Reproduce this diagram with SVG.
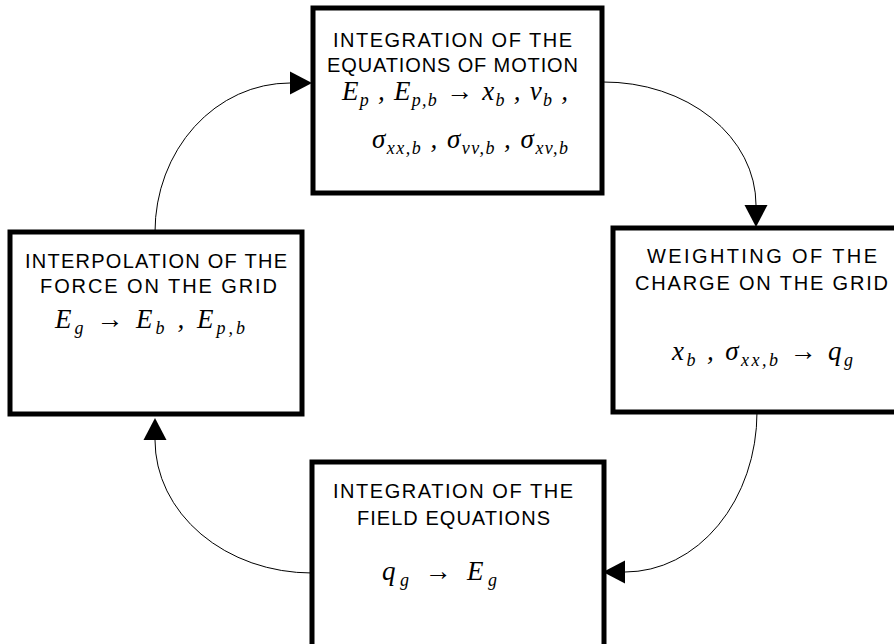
<svg xmlns="http://www.w3.org/2000/svg" width="894" height="644" viewBox="0 0 894 644">
<style>
.box{fill:#fff;stroke:#000;stroke-width:5}
.t{font-family:"Liberation Sans","DejaVu Sans",sans-serif;font-size:20px;fill:#000}
.m{font-family:"Liberation Serif","DejaVu Serif",serif;font-style:italic;font-size:27px;fill:#000}
.s{font-size:18px}
.r{font-style:normal}
.c{fill:none;stroke:#000;stroke-width:1}
</style>
<defs>
<marker id="ah" markerUnits="userSpaceOnUse" markerWidth="24" markerHeight="24" refX="0" refY="11.5" orient="auto" viewBox="0 0 24 23">
<path d="M0,0 L22,11.5 L0,23 z" fill="#000"/>
</marker>
</defs>
<rect width="894" height="644" fill="#fff"/>
<g id="connectors">
<path class="c" d="M155,232 A135,149 0 0 1 290,83" marker-end="url(#ah)"/>
<path class="c" d="M603,82 A152,123 0 0 1 756,205" marker-end="url(#ah)"/>
<path class="c" d="M757,412 A132,160 0 0 1 625,572" marker-end="url(#ah)"/>
<path class="c" d="M312,573 A157,133 0 0 1 155,440" marker-end="url(#ah)"/>
</g>
<g id="node-motion">
<rect class="box" x="313" y="8" width="289" height="185"/>
<text class="t" x="333" y="47" textLength="239" lengthAdjust="spacing">INTEGRATION OF THE</text>
<text class="t" x="327" y="72" textLength="251" lengthAdjust="spacing">EQUATIONS OF MOTION</text>
<text class="m" x="342" y="100" textLength="226" lengthAdjust="spacing">E<tspan class="s" dy="6">p</tspan><tspan dy="-6"> , E</tspan><tspan class="s" dy="6">p,b</tspan><tspan class="r" dy="-6"> → </tspan>x<tspan class="s" dy="6">b</tspan><tspan dy="-6"> , v</tspan><tspan class="s" dy="6">b</tspan><tspan dy="-6"> ,</tspan></text>
<text class="m" x="372" y="148" textLength="196" lengthAdjust="spacing">σ<tspan class="s" dy="6">xx,b</tspan><tspan dy="-6"> , σ</tspan><tspan class="s" dy="6">vv,b</tspan><tspan dy="-6"> , σ</tspan><tspan class="s" dy="6">xv,b</tspan></text>
</g>
<g id="node-interp">
<rect class="box" x="10" y="232" width="292" height="182"/>
<text class="t" x="25" y="268" textLength="262" lengthAdjust="spacing">INTERPOLATION OF THE</text>
<text class="t" x="40" y="293" textLength="237" lengthAdjust="spacing">FORCE ON THE GRID</text>
<text class="m" x="55" y="328" textLength="190" lengthAdjust="spacing">E<tspan class="s" dy="6">g</tspan><tspan class="r" dy="-6">  →  </tspan>E<tspan class="s" dy="6">b</tspan><tspan dy="-6"> , E</tspan><tspan class="s" dy="6">p,b</tspan></text>
</g>
<g id="node-weight">
<rect class="box" x="613" y="228" width="290" height="184"/>
<text class="t" x="647" y="263" textLength="230" lengthAdjust="spacing">WEIGHTING OF THE</text>
<text class="t" x="635" y="290" textLength="253" lengthAdjust="spacing">CHARGE ON THE GRID</text>
<text class="m" x="672" y="360" textLength="181" lengthAdjust="spacing">x<tspan class="s" dy="6">b</tspan><tspan dy="-6"> , σ</tspan><tspan class="s" dy="6">xx,b</tspan><tspan class="r" dy="-6">  →  </tspan>q<tspan class="s" dy="6">g</tspan></text>
</g>
<g id="node-field">
<rect class="box" x="312" y="462" width="292" height="200"/>
<text class="t" x="333" y="498" textLength="240" lengthAdjust="spacing">INTEGRATION OF THE</text>
<text class="t" x="357" y="525" textLength="193" lengthAdjust="spacing">FIELD EQUATIONS</text>
<text class="m" x="382" y="580" textLength="115" lengthAdjust="spacing">q<tspan class="s" dy="6">g</tspan><tspan class="r" dy="-6">  →  </tspan>E<tspan class="s" dy="6">g</tspan></text>
</g>
</svg>
